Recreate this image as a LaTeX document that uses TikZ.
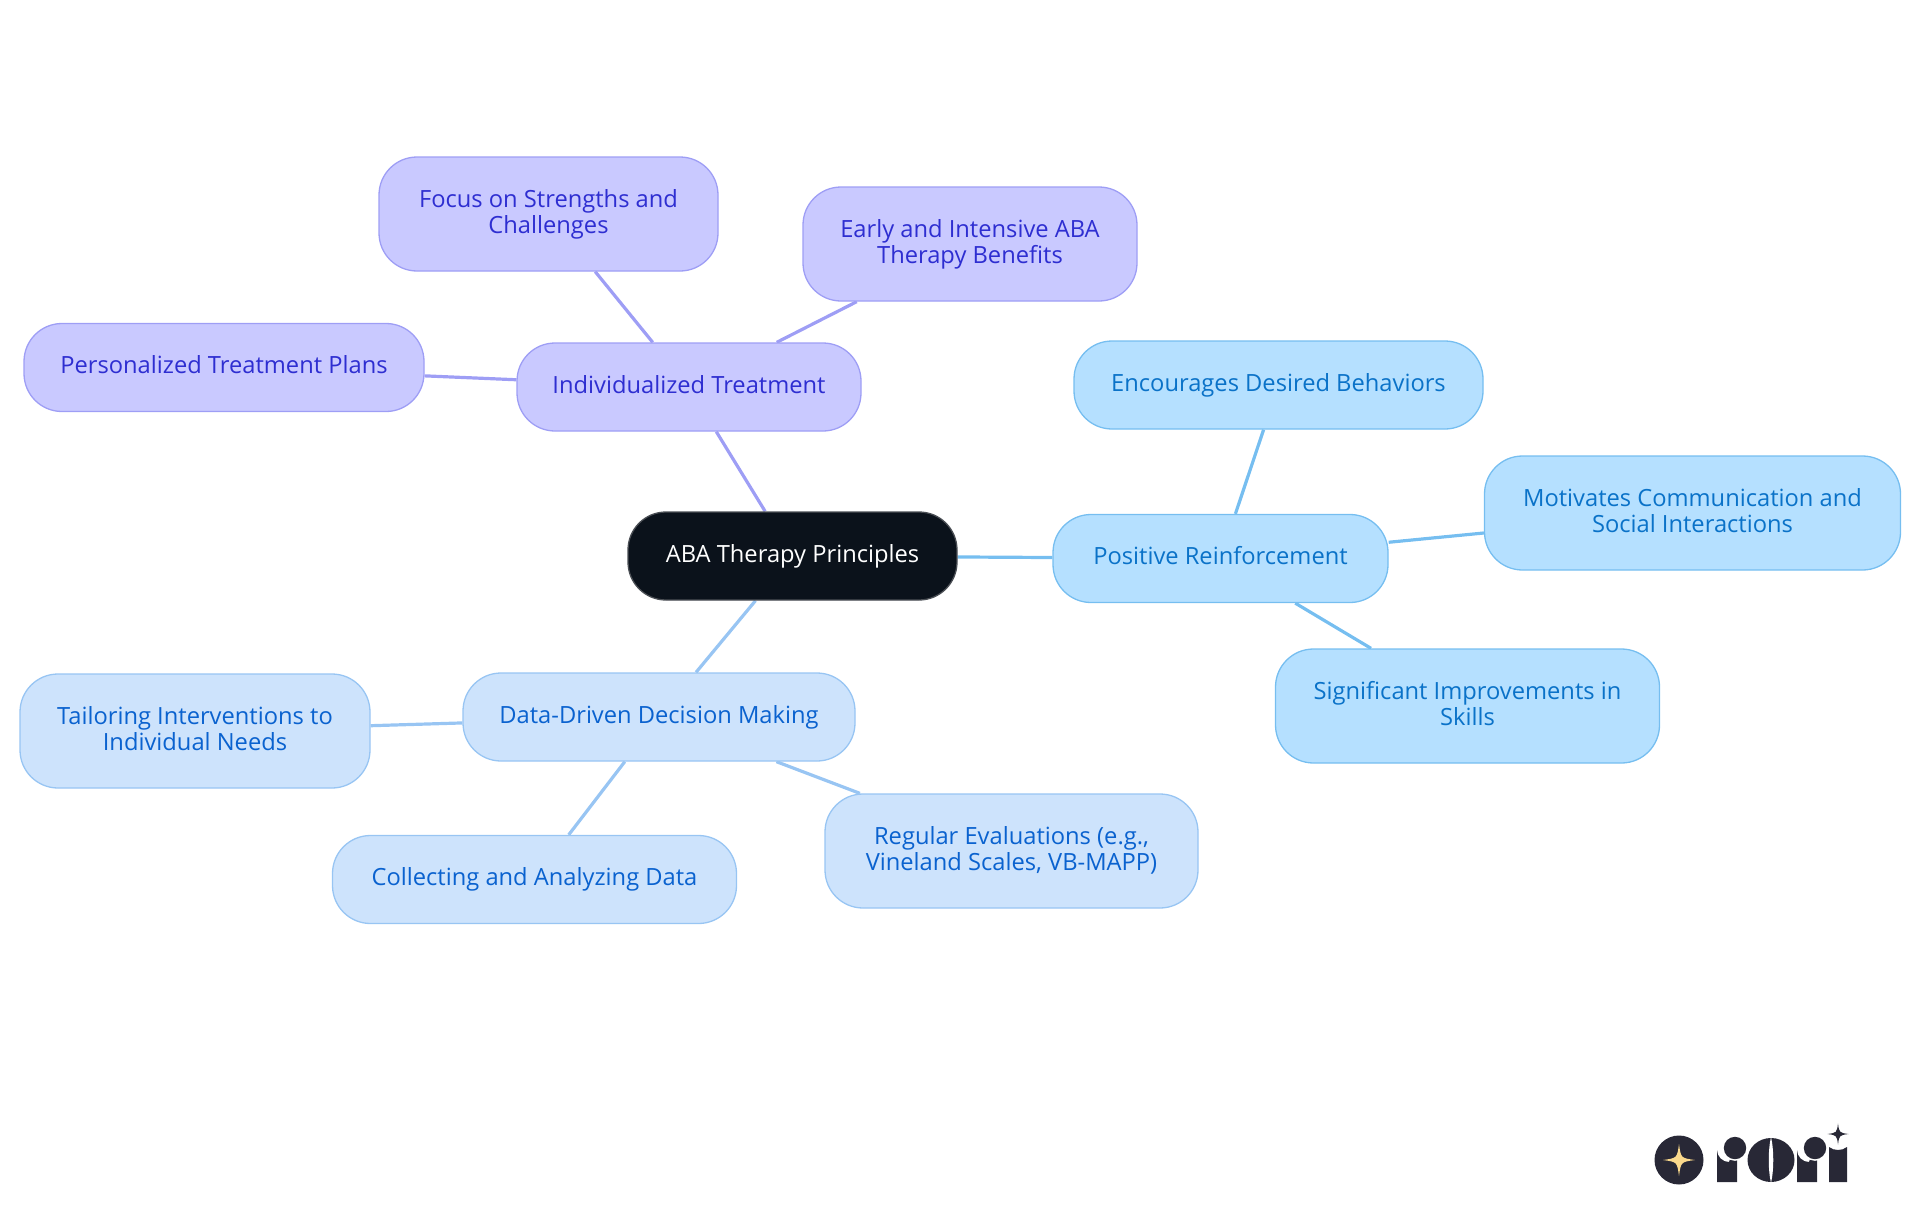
\documentclass[tikz,border=0pt]{standalone}
\usepackage{fontspec}
\setmainfont{Open Sans}
\usepackage{xcolor}
\usetikzlibrary{backgrounds}
\definecolor{rootfill}{HTML}{0B121B}
\definecolor{rootline}{HTML}{4A4E54}
\definecolor{violetfill}{HTML}{C9C9FF}
\definecolor{violetline}{HTML}{9E9EF5}
\definecolor{violettext}{HTML}{2E2ED1}
\definecolor{bluefill}{HTML}{CDE3FC}
\definecolor{blueline}{HTML}{98C5F3}
\definecolor{bluetext}{HTML}{0A62CF}
\definecolor{skyfill}{HTML}{B5E0FF}
\definecolor{skyline}{HTML}{76BEF0}
\definecolor{skytext}{HTML}{0A72C8}
\definecolor{logodark}{HTML}{282836}
\definecolor{logogold}{HTML}{FAD98C}
\tikzset{
 box/.style={draw, rounded corners=38pt, line width=1.3pt, align=center, inner sep=0pt,
  font=\fontsize{23.7}{26}\selectfont,
  execute at begin node=\rule{0pt}{18pt},
  execute at end node=\rule[-5.6pt]{0pt}{5.6pt}},
 rootbox/.style={box, fill=rootfill, draw=rootline, text=white, minimum width=329pt, minimum height=88pt},
 violetbox/.style={box, fill=violetfill, draw=violetline, text=violettext},
 bluebox/.style={box, fill=bluefill, draw=blueline, text=bluetext},
 skybox/.style={box, fill=skyfill, draw=skyline, text=skytext},
 link/.style={line width=3.2pt}
}
\newcommand{\logostar}[4]{
 \fill[#4] (#1,#2-#3) .. controls (#1+.12*#3,#2-.12*#3) .. (#1+#3,#2)
  .. controls (#1+.12*#3,#2+.12*#3) .. (#1,#2+#3)
  .. controls (#1-.12*#3,#2+.12*#3) .. (#1-#3,#2)
  .. controls (#1-.12*#3,#2-.12*#3) .. (#1,#2-#3) -- cycle;
}
\newcommand{\logoar}[1]{
 \fill[logodark] (#1,1182) -- (#1,1150) arc[start angle=180, end angle=90, radius=12] -- (#1+20,1138) -- (#1+20,1182) -- cycle;
 \fill[white] (#1+18,1148) circle (12.8);
 \fill[logodark] (#1+18,1148) circle (11.2);
}
\begin{document}
\begin{tikzpicture}[x=1pt, y=-1pt]
\useasboundingbox (0,0) rectangle (1920,1215);
\node[rootbox] (root) at (792.5,556) {ABA Therapy Principles};
% violet branch
\node[violetbox, minimum width=344pt, minimum height=88pt] (treat) at (689,387) {Individualized Treatment};
\node[violetbox, minimum width=339pt, minimum height=114pt] (focus) at (548.5,214) {Focus on Strengths and\\Challenges};
\node[violetbox, minimum width=334pt, minimum height=114pt] (early) at (970,244) {Early and Intensive ABA\\Therapy Benefits};
\node[violetbox, minimum width=400pt, minimum height=88pt] (plans) at (224,367.5) {Personalized Treatment Plans};
% sky branch
\node[skybox, minimum width=335pt, minimum height=88pt] (reinf) at (1220.5,558.5) {Positive Reinforcement};
\node[skybox, minimum width=409pt, minimum height=88pt] (desired) at (1278.5,385) {Encourages Desired Behaviors};
\node[skybox, minimum width=416pt, minimum height=114pt] (social) at (1692.5,513) {Motivates Communication and\\Social Interactions};
\node[skybox, minimum width=384pt, minimum height=114pt] (skills) at (1467.5,706) {Significant Improvements in\\Skills};
% blue branch
\node[bluebox, minimum width=392pt, minimum height=88pt] (data) at (659,717) {Data-Driven Decision Making};
\node[bluebox, minimum width=350pt, minimum height=114pt] (needs) at (195,731) {Tailoring Interventions to\\Individual Needs};
\node[bluebox, minimum width=404pt, minimum height=88pt] (collect) at (534.5,879.5) {Collecting and Analyzing Data};
\node[bluebox, minimum width=373pt, minimum height=114pt] (evals) at (1011.5,851) {Regular Evaluations (e.g.,\\Vineland Scales, VB-MAPP)};
\begin{scope}[on background layer]
\foreach \a/\b in {root/treat, treat/focus, treat/early, treat/plans}
 \draw[link, violetline] (\a) -- (\b);
\foreach \a/\b in {root/reinf, reinf/desired, reinf/social, reinf/skills}
 \draw[link, skyline] (\a) -- (\b);
\foreach \a/\b in {root/data, data/needs, data/collect, data/evals}
 \draw[link, blueline] (\a) -- (\b);
\end{scope}
% logo
\fill[logodark] (1679,1160) circle (24.5);
\logostar{1679}{1160}{16}{logogold}
\logoar{1717}
\fill[logodark] (1771,1160) ellipse (23.5 and 22);
\fill[white] (1771,1137) .. controls (1768,1150) and (1768,1170) .. (1771,1183) .. controls (1774,1170) and (1774,1150) .. (1771,1137) -- cycle;
\logoar{1797}
\fill[white] (1838,1134) circle (14);
\fill[logodark] (1829,1147) -- (1829,1182) -- (1847,1182) -- (1847,1147) .. controls (1842,1151) and (1834,1151) .. (1829,1147) -- cycle;
\logostar{1838}{1134}{10.5}{logodark}
\end{tikzpicture}
\end{document}
